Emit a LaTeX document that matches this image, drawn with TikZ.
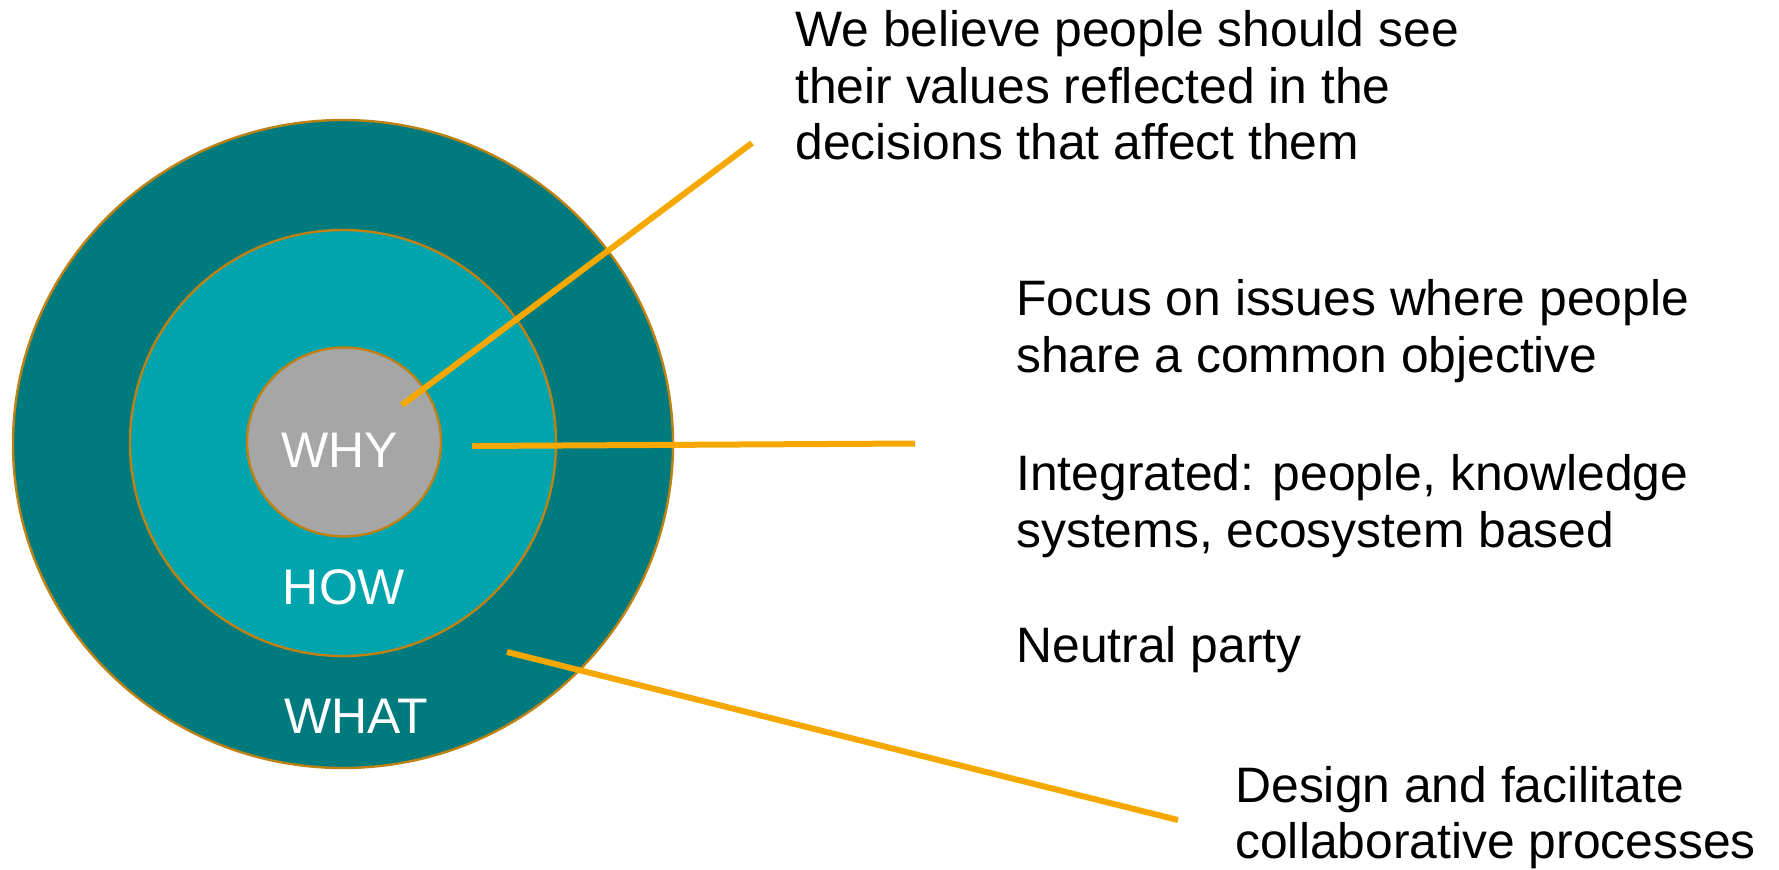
\documentclass[tikz,border=0pt]{standalone}
\usepackage{fontspec}
\setmainfont{Liberation Sans}
\usetikzlibrary{shapes.geometric}
\definecolor{tealdark}{RGB}{0,123,125}
\definecolor{tealmid}{RGB}{0,164,173}
\definecolor{ringgray}{RGB}{166,166,166}
\definecolor{ringedge}{RGB}{190,130,20}
\definecolor{leader}{RGB}{246,168,0}
\begin{document}
\begin{tikzpicture}[x=0.5pt,y=-0.5pt,
  ring/.style={ellipse, draw=ringedge, line width=1.2pt, inner sep=0pt},
  lbl/.style={text=white, font=\fontsize{25}{28}\selectfont, inner sep=0pt, anchor=base},
  note/.style={anchor=north west, align=left, inner sep=0pt, font=\fontsize{24.9}{28.25}\selectfont},
  leaderline/.style={draw=leader, line width=3pt}]
\useasboundingbox (0,0) rectangle (1779,869);
% rings
\node[ring, fill=tealdark, minimum width=330pt, minimum height=324pt] (what) at (343,444) {};
\node[ring, fill=tealmid, minimum width=213pt, minimum height=213pt] (how) at (343,443) {};
\node[ring, fill=ringgray, minimum width=97pt, minimum height=94.5pt] (why) at (344,442) {};
% ring labels
\node[lbl] (whyt) at (340,467) {WHY};
\node[lbl] (howt) at (344,604.5) {HOW};
\node[lbl] (whatt) at (356,733) {WHAT};
% notes
\node[note] (n1) at (795,10.5) {We believe people should see\\their values reflected in the\\decisions that affect them};
\node[note] (n2) at (1016,279.5) {Focus on issues where people\\share a common objective};
\node[note] (n3) at (1016,454.5) {Integrated: people, knowledge\\systems, ecosystem based};
\node[note] (n4) at (1016,626.5) {Neutral party};
\node[note] (n5) at (1235,765.5) {Design and facilitate\\collaborative processes};
% leader lines
\coordinate (a1) at (402,405);
\coordinate (b1) at (752,143);
\coordinate (a2) at (472,446);
\coordinate (b2) at (915,443.5);
\coordinate (a3) at (507,652);
\coordinate (b3) at (1178,820);
\draw[leaderline] (a1) -- (b1);
\draw[leaderline] (a2) -- (b2);
\draw[leaderline] (a3) -- (b3);
\end{tikzpicture}
\end{document}
